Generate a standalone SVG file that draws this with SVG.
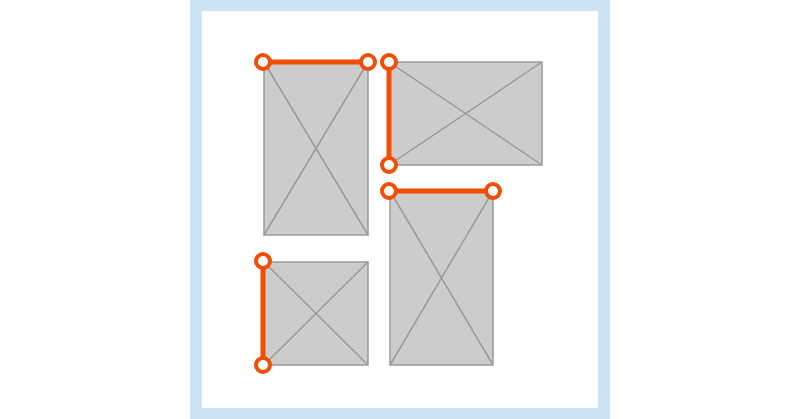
<svg xmlns="http://www.w3.org/2000/svg" width="800" height="419" viewBox="0 0 800 419">
<style>
.ph{fill:#cbcccb;stroke:#9a9a9a;stroke-width:1.5}
.x{stroke:#9a9a9a;stroke-width:1.5;fill:none}
.e{stroke:#f04e00;stroke-width:5;fill:none}
.h{fill:#fff;stroke:#f04e00;stroke-width:4}
</style>
<rect x="190" y="0" width="420" height="419" fill="#cde3f5"/>
<rect x="202" y="11" width="396" height="397" fill="#fff"/>
<g id="node1">
<rect class="ph" x="264" y="62" width="104" height="173"/>
<path class="x" d="M264 62L368 235M368 62L264 235"/>
</g>
<g id="node2">
<rect class="ph" x="389" y="62" width="153" height="103"/>
<path class="x" d="M389 62L542 165M542 62L389 165"/>
</g>
<g id="node3">
<rect class="ph" x="264" y="262" width="104" height="103"/>
<path class="x" d="M264 262L368 365M368 262L264 365"/>
</g>
<g id="node4">
<rect class="ph" x="390" y="191" width="103" height="174"/>
<path class="x" d="M390 191L493 365M493 191L390 365"/>
</g>
<g id="connectors">
<path class="e" d="M263 62H368"/>
<path class="e" d="M389 62V165"/>
<path class="e" d="M389 191H493"/>
<path class="e" d="M263 261V365"/>
<circle class="h" cx="263" cy="62" r="7"/>
<circle class="h" cx="368" cy="62" r="7"/>
<circle class="h" cx="389" cy="62" r="7"/>
<circle class="h" cx="389" cy="165" r="7"/>
<circle class="h" cx="389" cy="191" r="7"/>
<circle class="h" cx="493" cy="191" r="7"/>
<circle class="h" cx="263" cy="261" r="7"/>
<circle class="h" cx="263" cy="365" r="7"/>
</g>
</svg>
